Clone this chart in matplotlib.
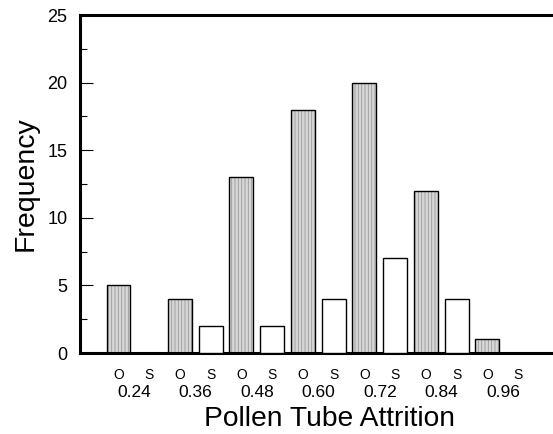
import matplotlib
matplotlib.use("Agg")
import matplotlib.pyplot as plt
import numpy as np

plt.rcParams["font.family"] = ["Liberation Sans", "DejaVu Sans"]
plt.rcParams["hatch.linewidth"] = 0.6

groups = ["0.24", "0.36", "0.48", "0.60", "0.72", "0.84", "0.96"]
outcross = [5, 4, 13, 18, 20, 12, 1]   # O bars (stippled)
selfed = [0, 2, 2, 4, 7, 4, 0]         # S bars (open)

fig = plt.figure(figsize=(5.53, 4.34), dpi=100)
ax = fig.add_axes([80 / 553, 81 / 434, 480 / 553, 338 / 434])

n = len(groups)
xo = np.arange(n) * 2
xs = xo + 1
w = 0.78

# stippled fill, then outline on top
ax.bar(xo, outcross, width=w, color="#d6d6d6", edgecolor="#9a9a9a",
       hatch="|||||", linewidth=0, zorder=2)
ax.bar(xo, outcross, width=w, fill=False, edgecolor="black", linewidth=1.0, zorder=3)
sv = np.array(selfed)
ax.bar(xs[sv > 0], sv[sv > 0], width=w,
       color="white", edgecolor="black", linewidth=1.0, zorder=3)

ax.set_xlim(-1.252, 14.36)
ax.set_ylim(0, 25)

ax.set_yticks([0, 5, 10, 15, 20, 25])
ax.set_yticks(np.arange(2.5, 25, 5), minor=True)
ax.tick_params(axis="y", which="major", direction="in", length=9, width=0.8,
               labelsize=13, pad=9)
ax.tick_params(axis="y", which="minor", direction="in", length=5, width=0.8)

slots = np.ravel(np.column_stack([xo, xs]))
ax.set_xticks(slots, ["O", "S"] * n)
ax.set_xticks(xo + 0.5, groups, minor=True)
ax.tick_params(axis="x", which="major", length=0, labelsize=10, pad=11)
ax.tick_params(axis="x", which="minor", length=0, labelsize=12.5, pad=23)

for s in ["left", "bottom", "top"]:
    ax.spines[s].set_linewidth(2.2)
ax.spines["right"].set_visible(False)

ax.set_xlabel("Pollen Tube Attrition", fontsize=20.3, labelpad=4)
ax.xaxis.label.set_x(0.52)
ax.set_ylabel("Frequency", fontsize=20.5, labelpad=6)

fig.savefig("out.png", dpi=100)
